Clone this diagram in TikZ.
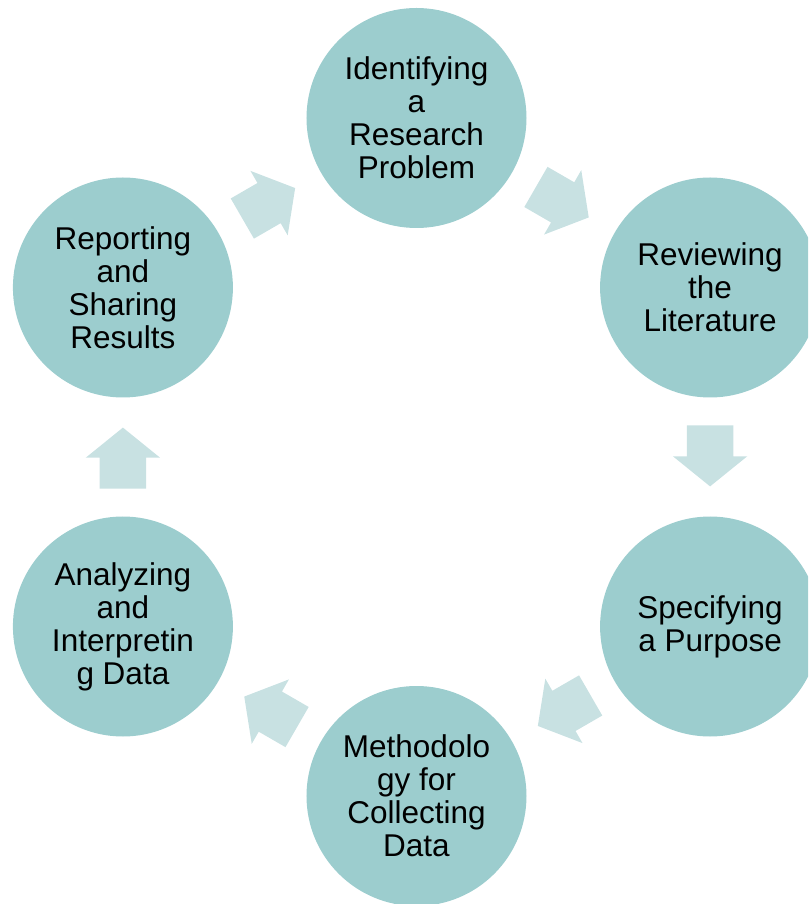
\documentclass[tikz,border=0pt]{standalone}
\usepackage{fontspec}
\setmainfont{Liberation Sans}
\usetikzlibrary{calc,shapes.arrows}
\definecolor{stagefill}{RGB}{156,205,206}
\definecolor{arrowfill}{RGB}{200,225,226}
\begin{document}
\begin{tikzpicture}[
	stage/.style={circle, fill=stagefill, minimum size=220pt, inner sep=0pt, align=center,
		font=\fontsize{31.5}{33}\selectfont},
	steparrow/.style={single arrow, fill=arrowfill, draw=none, inner xsep=0pt, inner ysep=23pt,
		minimum height=61pt, minimum width=74pt, single arrow head extend=14pt,
		single arrow tip angle=102}]
			\clip (-416.5pt,-447pt) rectangle (391.5pt,457pt);
			\node[stage] (problem) at (90:339pt) {Identifying\\a\\Research\\Problem};
			\node[stage] (literature) at (30:339pt) {Reviewing\\the\\Literature};
			\node[stage] (purpose) at (-30:339pt) {Specifying\\a Purpose};
			\node[stage] (method) at (-90:339pt) {Methodolo\\gy for\\Collecting\\Data};
			\node[stage] (analysis) at (-150:339pt) {Analyzing\\and\\Interpretin\\g Data};
			\node[stage] (report) at (150:339pt) {Reporting\\and\\Sharing\\Results};
			\foreach \a/\b/\ang in {problem/literature/-30, literature/purpose/-90, purpose/method/-150,
				method/analysis/150, analysis/report/90, report/problem/30}
				\node[steparrow, rotate=\ang] (\a-\b) at ($(\a)!0.5!(\b)+(\ang:-10.5pt)$) {};
			\end{tikzpicture}
\end{document}
